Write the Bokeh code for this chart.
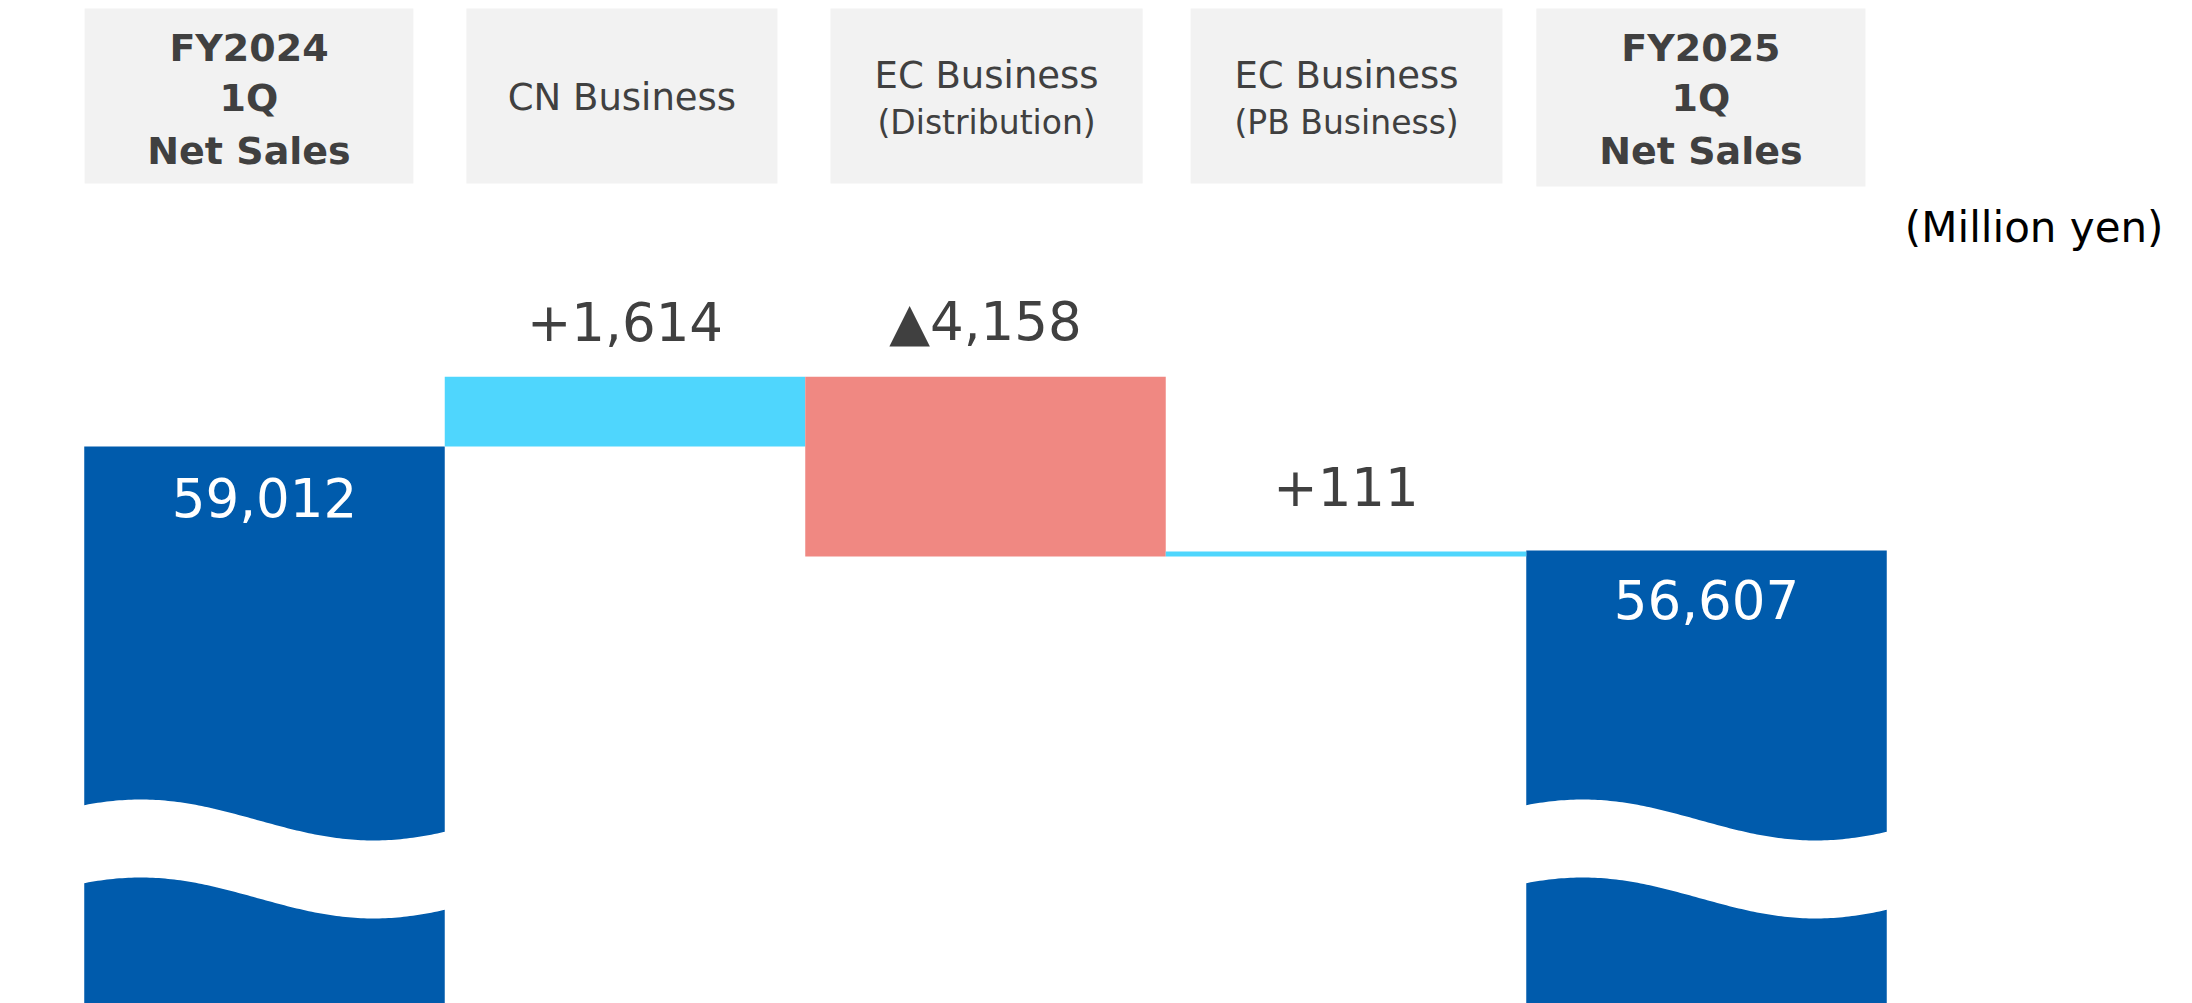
import numpy as np
from bokeh.plotting import figure
from bokeh.models import Range1d
from bokeh.core.properties import value
from bokeh.embed import file_html
from bokeh.resources import INLINE

# ---------------- data ----------------
categories = ["FY2024 1Q Net Sales", "CN Business", "EC Business (Distribution)",
              "EC Business (PB Business)", "FY2025 1Q Net Sales"]
header_lines = [["FY2024", "1Q", "Net Sales"],
                ["CN Business"],
                ["EC Business", "(Distribution)"],
                ["EC Business", "(PB Business)"],
                ["FY2025", "1Q", "Net Sales"]]
start_total = 59012
changes = [1614, -4158, 111]
end_total = 56607
unit_label = "(Million yen)"

# ---------------- layout ----------------
W, H = 2192, 1003
Y_TOP, Y_BOT = 69336, 46118
X_LEFT, X_RIGHT = -0.7323, 5.3481
UPP = (Y_TOP - Y_BOT) / H
TXT_SHIFT = 15  # px correction for text baseline rendering


def vy(py):
    return Y_TOP - py * UPP


def vx(px):
    return X_LEFT + px * (X_RIGHT - X_LEFT) / W


BLUE = "#005BAC"
CYAN = "#4FD6FD"
SALMON = "#F08882"
GRAY_BOX = "#F2F2F2"
TXT = "#404040"
FONT = value("DejaVu Sans")

p = figure(width=W, height=H, output_backend="svg", toolbar_location=None,
           x_range=Range1d(X_LEFT, X_RIGHT), y_range=Range1d(Y_BOT, Y_TOP),
           x_axis_location=None, y_axis_location=None, min_border=0,
           outline_line_color=None, background_fill_color="white",
           border_fill_color="white")
p.grid.visible = False

# totals
tot_x = [0, len(categories) - 1]
tot_top = [start_total, end_total]
p.vbar(x=tot_x, width=1.0, bottom=Y_BOT - 5000, top=tot_top,
       fill_color=BLUE, line_color=None)

# changes
levels = [start_total]
for c in changes:
    levels.append(levels[-1] + c)
ch_x = list(range(1, len(changes) + 1))
ch_bottom = [min(levels[i], levels[i + 1]) for i in range(len(changes))]
ch_top = [max(levels[i], levels[i + 1]) for i in range(len(changes))]
ch_color = [CYAN if c > 0 else SALMON for c in changes]
p.vbar(x=ch_x, width=1.0, bottom=ch_bottom, top=ch_top,
       fill_color=ch_color, line_color=None)

# wave break on total bars
t = np.linspace(0, 1, 120)
top_ref = 819.5 + 20.5 * np.sin(2 * np.pi * (t - 0.16) / 1.28 - np.pi / 2)
bot_ref = top_ref + 78
for i in tot_x:
    xs = list(i - 0.505 + t * 1.01) + list((i - 0.505 + t * 1.01)[::-1])
    ys = list(vy(top_ref)) + list(vy(bot_ref)[::-1])
    p.patch(xs, ys, fill_color="white", line_color=None)

# header boxes
hdr_left = [-0.499, 0.560, 1.570, 2.569, 3.528]
hdr_right = [0.413, 1.423, 2.436, 3.434, 4.441]
hdr_top_px = 8
hdr_bottom_px = [183, 183, 183, 183, 186]
p.quad(left=hdr_left, right=hdr_right, top=vy(hdr_top_px),
       bottom=[vy(b) for b in hdr_bottom_px], fill_color=GRAY_BOX, line_color=None)

bx, by, bt = [], [], []
rx, ry, rt = [], [], []
sx, sy, st = [], [], []
for i, lines in enumerate(header_lines):
    cx = (hdr_left[i] + hdr_right[i]) / 2
    if len(lines) == 3:
        for ln, py in zip(lines, [62, 112, 165]):
            bx.append(cx); by.append(vy(py - TXT_SHIFT)); bt.append(ln)
    elif len(lines) == 1:
        rx.append(cx); ry.append(vy(112 - TXT_SHIFT)); rt.append(lines[0])
    else:
        rx.append(cx); ry.append(vy(90 - TXT_SHIFT)); rt.append(lines[0])
        sx.append(cx); sy.append(vy(137 - TXT_SHIFT)); st.append(lines[1])

p.text(x=bx, y=by, text=bt, text_font=FONT, text_font_style="bold",
       text_font_size="38px", text_color=TXT, text_align="center",
       text_baseline="alphabetic")
p.text(x=rx, y=ry, text=rt, text_font=FONT, text_font_size="37px",
       text_color=TXT, text_align="center", text_baseline="alphabetic")
p.text(x=sx, y=sy, text=st, text_font=FONT, text_font_size="33px",
       text_color=TXT, text_align="center", text_baseline="alphabetic")

# value labels in total bars
p.text(x=tot_x, y=tot_top, text=[f"{v:,}" for v in tot_top], y_offset=[51, 49],
       text_font=FONT, text_font_size="53px", text_color="white",
       text_align="center", text_baseline="alphabetic")

# change labels
ch_lbl = [f"+{c:,}" if c > 0 else f"\u25b2{abs(c):,}" for c in changes]
p.text(x=ch_x, y=ch_top, text=ch_lbl, y_offset=[-55, -55, -65],
       text_font=FONT, text_font_size="53px", text_color=TXT,
       text_align="center", text_baseline="alphabetic")

# unit label
p.text(x=[vx(2163)], y=[vy(242 - TXT_SHIFT)], text=[unit_label], text_font=FONT,
       text_font_size="42px", text_color="black", text_align="right",
       text_baseline="alphabetic")

open("out.html", "w").write(file_html(p, INLINE))
